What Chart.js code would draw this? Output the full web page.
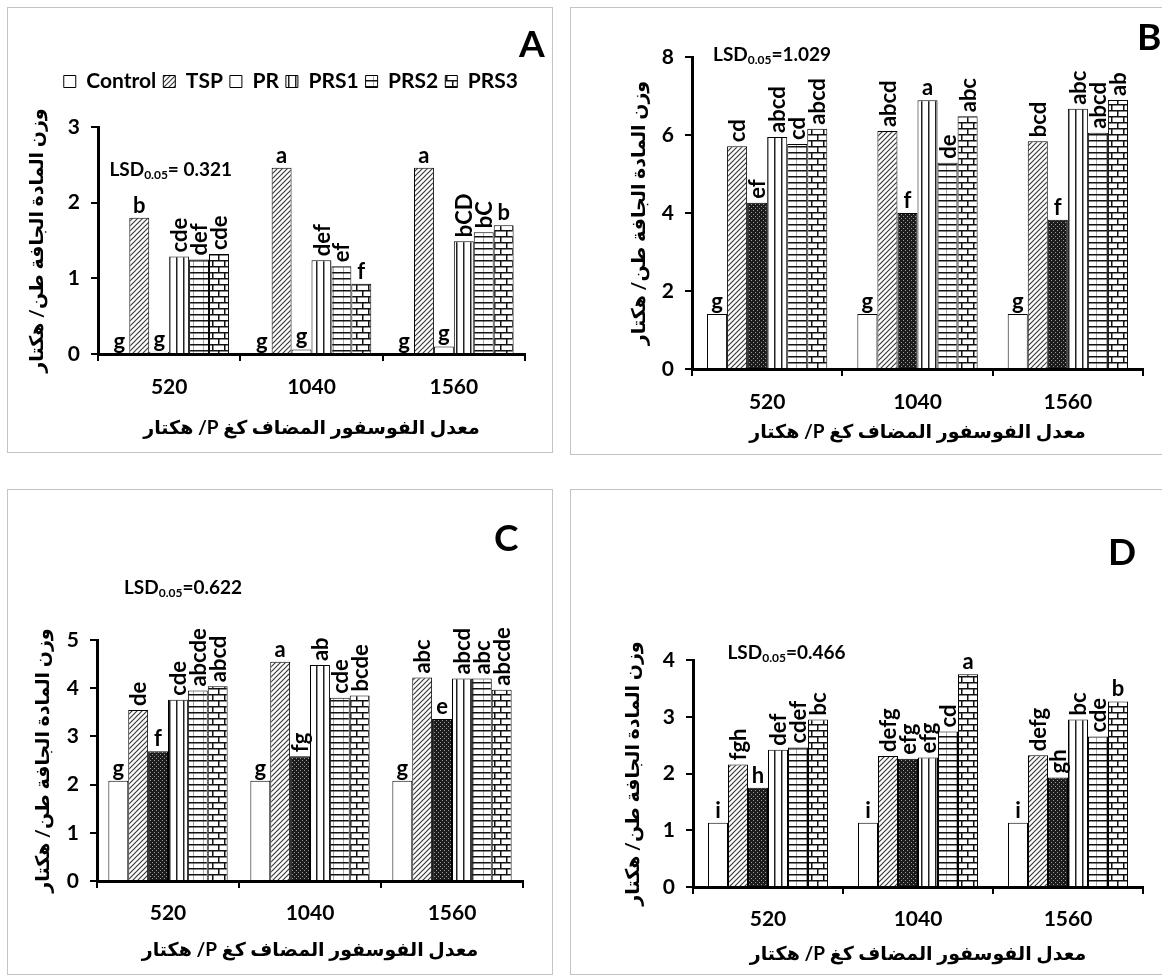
<!DOCTYPE html>
<html>
<head>
<meta charset="utf-8">
<script src="https://cdn.jsdelivr.net/npm/chart.js@4.4.0/dist/chart.umd.min.js"></script>
<style>
  body { margin: 0; background: #fff; width: 1162px; height: 978px; overflow: hidden; position: relative; }
  .panel { position: absolute; border: 1px solid #c4c4c4; background: #fff; }
  .panel canvas { display: block; }
</style>
</head>
<body>
<div class="panel" style="left:7px;top:7px;width:544px;height:444px"><canvas id="chartA" width="544" height="444"></canvas></div>
<div class="panel" style="left:570px;top:7px;width:591px;height:446px"><canvas id="chartB" width="591" height="446"></canvas></div>
<div class="panel" style="left:7px;top:489px;width:544px;height:484px"><canvas id="chartC" width="544" height="484"></canvas></div>
<div class="panel" style="left:570px;top:489px;width:591px;height:484px"><canvas id="chartD" width="591" height="484"></canvas></div>
<script>
// categories and series
const rates = ["520", "1040", "1560"];
const treatments = ["Control", "TSP", "PR", "PRS1", "PRS2", "PRS3"];

// rows follow treatments, columns follow rates
const valuesA = [
    [0, 0, 0],
    [1.8, 2.46, 2.46],
    [0.03, 0.06, 0.1],
    [1.29, 1.24, 1.49],
    [1.25, 1.16, 1.61],
    [1.32, 0.93, 1.7],
];
const lettersA = [
    ["g", "g", "g"],
    ["b", "a", "a"],
    ["g", "g", "g"],
    ["cde", "def", "bCD"],
    ["def", "ef", "bC"],
    ["cde", "f", "b"],
];

const valuesB = [
    [1.41, 1.41, 1.41],
    [5.71, 6.1, 5.84],
    [4.26, 4.0, 3.83],
    [5.95, 6.89, 6.67],
    [5.77, 5.29, 6.06],
    [6.16, 6.48, 6.9],
];
const lettersB = [
    ["g", "g", "g"],
    ["cd", "abcd", "bcd"],
    ["ef", "f", "f"],
    ["abcd", "a", "abc"],
    ["cd", "de", "abcd"],
    ["abcd", "abc", "ab"],
];

const valuesC = [
    [2.08, 2.08, 2.08],
    [3.55, 4.55, 4.22],
    [2.69, 2.59, 3.36],
    [3.76, 4.48, 4.2],
    [3.95, 3.8, 4.2],
    [4.04, 3.85, 3.97],
];
const lettersC = [
    ["g", "g", "g"],
    ["de", "a", "abc"],
    ["f", "fg", "e"],
    ["cde", "ab", "abcd"],
    ["abcde", "cde", "abc"],
    ["abcd", "bcde", "abcde"],
];

const valuesD = [
    [1.13, 1.13, 1.13],
    [2.16, 2.31, 2.32],
    [1.75, 2.26, 1.93],
    [2.42, 2.28, 2.95],
    [2.46, 2.74, 2.65],
    [2.95, 3.75, 3.27],
];
const lettersD = [
    ["i", "i", "i"],
    ["fgh", "defg", "defg"],
    ["h", "efg", "gh"],
    ["def", "efg", "bc"],
    ["cdef", "cd", "cde"],
    ["bc", "a", "b"],
];

const xTitle = "\u202Bمعدل الفوسفور المضاف كغ P/ هكتار\u202C";
const yTitle = "\u202Bوزن المادة الجافة طن/ هكتار\u202C";

const FONT = 'Lato, "DejaVu Sans", sans-serif';
Chart.defaults.font.family = FONT;
Chart.defaults.color = "#000";

// fill patterns
function makePattern(w, h, draw) {
    const c = document.createElement("canvas");
    c.width = w;
    c.height = h;
    const g = c.getContext("2d");
    g.fillStyle = "#fff";
    g.fillRect(0, 0, w, h);
    draw(g);
    return g.createPattern(c, "repeat");
}

const hatch = makePattern(5, 5, (g) => {
    g.strokeStyle = "#3a3a3a";
    g.lineWidth = 1.2;
    g.beginPath();
    g.moveTo(-1, 6); g.lineTo(6, -1);
    g.moveTo(-1, 1); g.lineTo(1, -1);
    g.moveTo(4, 6); g.lineTo(6, 4);
    g.stroke();
});
const darkDots = makePattern(4, 4, (g) => {
    g.fillStyle = "#1c1c1c";
    g.fillRect(0, 0, 4, 4);
    g.fillStyle = "#9a9a9a";
    g.fillRect(0, 0, 1, 1);
    g.fillRect(2, 2, 1, 1);
});
const vLines = makePattern(7, 4, (g) => {
    g.fillStyle = "#222";
    g.fillRect(0, 0, 1.5, 4);
});
const hLines = makePattern(10, 6, (g) => {
    g.fillStyle = "#aaa";
    g.fillRect(5, 0, 1, 6);
    g.fillStyle = "#111";
    g.fillRect(0, 0, 10, 1.5);
});
const bricks = makePattern(12, 12, (g) => {
    g.fillStyle = "#111";
    g.fillRect(0, 0, 12, 1.5);
    g.fillRect(0, 6, 12, 1.5);
    g.fillRect(0, 0, 1.5, 6);
    g.fillRect(6, 6, 1.5, 6);
});

// letters above bars
const lettersPlugin = {
    id: "letters",
    afterDatasetsDraw(chart) {
        const ctx = chart.ctx;
        ctx.save();
        ctx.fillStyle = "#000";
        ctx.font = "bold 22px " + FONT;
        chart.data.datasets.forEach((ds, i) => {
            chart.getDatasetMeta(i).data.forEach((bar, j) => {
                const txt = ds.letters[j];
                if (txt.length > 1) {
                    ctx.save();
                    ctx.translate(bar.x + 1, bar.y - 4);
                    ctx.rotate(-Math.PI / 2);
                    ctx.textAlign = "left";
                    ctx.textBaseline = "middle";
                    ctx.fillText(txt, 0, 0);
                    ctx.restore();
                } else {
                    ctx.textAlign = "center";
                    ctx.textBaseline = "alphabetic";
                    ctx.fillText(txt, bar.x, bar.y - 5);
                }
            });
        });
        ctx.restore();
    },
};

// LSD note and panel letter
const notesPlugin = {
    id: "notes",
    afterDraw(chart, args, opts) {
        const ctx = chart.ctx;
        const x0 = chart.scales.x.getPixelForValue(opts.lsdIndex);
        const y0 = chart.scales.y.getPixelForValue(opts.lsdValue);
        ctx.save();
        ctx.fillStyle = "#000";
        ctx.textAlign = "left";
        ctx.textBaseline = "middle";
        ctx.font = "bold 19px " + FONT;
        ctx.fillText("LSD", x0, y0);
        let x = x0 + ctx.measureText("LSD").width;
        ctx.font = "bold 12px " + FONT;
        ctx.fillText("0.05", x, y0 + 5);
        x += ctx.measureText("0.05").width;
        ctx.font = "bold 19px " + FONT;
        ctx.fillText(opts.lsd, x, y0);

        ctx.font = "bold 37px " + FONT;
        ctx.fillText(opts.panel, opts.panelX, opts.panelY);
        ctx.restore();
    },
};

// extra space between the legend and the plot in panel A
const legendGap = {
    id: "legendGap",
    beforeInit(chart) {
        const legend = chart.legend;
        if (!legend) return;
        const fit = legend.fit;
        legend.fit = function () {
            fit.call(this);
            this.height = 63;
        };
    },
};

function buildChart(id, cfg) {
    const fills = ["#fff", hatch, cfg.prFill, vLines, hLines, bricks];
    return new Chart(document.getElementById(id), {
        type: "bar",
        data: {
            labels: rates,
            datasets: treatments.map((name, i) => ({
                label: name,
                data: cfg.values[i],
                letters: cfg.letters[i],
                backgroundColor: fills[i],
                borderColor: "#000",
                borderWidth: 1,
                barPercentage: 1,
                categoryPercentage: cfg.catPct,
            })),
        },
        options: {
            responsive: false,
            animation: false,
            layout: { padding: cfg.padding },
            plugins: {
                legend: {
                    display: cfg.legend,
                    align: "end",
                    labels: {
                        boxWidth: 12,
                        boxHeight: 12,
                        padding: 7,
                        font: { size: 21, weight: "bold" },
                    },
                },
                tooltip: { enabled: false },
                notes: cfg.notes,
            },
            scales: {
                x: {
                    afterFit: (s) => { s.height = cfg.xHeight; },
                    border: { color: "#000", width: 3 },
                    grid: { drawOnChartArea: false, color: "#000", lineWidth: 2, tickLength: 7 },
                    ticks: { padding: cfg.xPad, font: { size: 21, weight: "bold" } },
                    title: {
                        display: true,
                        text: xTitle,
                        font: { size: 19, weight: "bold" },
                        padding: { top: 0, bottom: cfg.xTitlePad },
                    },
                },
                y: {
                    min: 0,
                    max: cfg.yMax,
                    afterFit: (s) => { s.width = cfg.yWidth; },
                    border: { color: "#000", width: 3 },
                    grid: { drawOnChartArea: false, color: "#000", lineWidth: 2, tickLength: 7 },
                    ticks: { stepSize: cfg.yStep, padding: 11, font: { size: 21, weight: "bold" } },
                    title: {
                        display: true,
                        text: yTitle,
                        font: { size: 19, weight: "bold" },
                        padding: { top: cfg.yTitlePad, bottom: 0 },
                    },
                },
            },
        },
        plugins: cfg.legend ? [lettersPlugin, notesPlugin, legendGap] : [lettersPlugin, notesPlugin],
    });
}

buildChart("chartA", {
    values: valuesA, letters: lettersA, prFill: "#fff", catPct: 0.84,
    padding: { left: 8, right: 27, top: 56, bottom: 5 },
    legend: true, yMax: 3, yStep: 1, yWidth: 82, xHeight: 93, xPad: 14, xTitlePad: 8, yTitlePad: 9,
    notes: { lsd: "= 0.321", lsdIndex: -0.42, lsdValue: 2.43, panel: "A", panelX: 511, panelY: 37 },
});
buildChart("chartB", {
    values: valuesB, letters: lettersB, prFill: darkDots, catPct: 0.8,
    padding: { left: 45, right: 19, top: 49, bottom: 6 },
    legend: false, yMax: 8, yStep: 2, yWidth: 76, xHeight: 79, xPad: 14, xTitlePad: 5, yTitlePad: 11,
    notes: { lsd: "=1.029", lsdIndex: -0.36, lsdValue: 8.05, panel: "B", panelX: 566, panelY: 30 },
});
buildChart("chartC", {
    values: valuesC, letters: lettersC, prFill: darkDots, catPct: 0.84,
    padding: { left: 8, right: 29, top: 150, bottom: 10 },
    legend: false, yMax: 5, yStep: 1, yWidth: 81, xHeight: 83, xPad: 13, xTitlePad: 3, yTitlePad: 15,
    notes: { lsd: "=0.622", lsdIndex: -0.31, lsdValue: 6.08, panel: "C", panelX: 486, panelY: 49 },
});
buildChart("chartD", {
    values: valuesD, letters: lettersD, prFill: darkDots, catPct: 0.8,
    padding: { left: 40, right: 19, top: 170, bottom: 6 },
    legend: false, yMax: 4, yStep: 1, yWidth: 82, xHeight: 81, xPad: 13, xTitlePad: 3, yTitlePad: 10,
    notes: { lsd: "=0.466", lsdIndex: -0.27, lsdValue: 4.12, panel: "D", panelX: 537, panelY: 63 },
});
</script>
</body>
</html>
